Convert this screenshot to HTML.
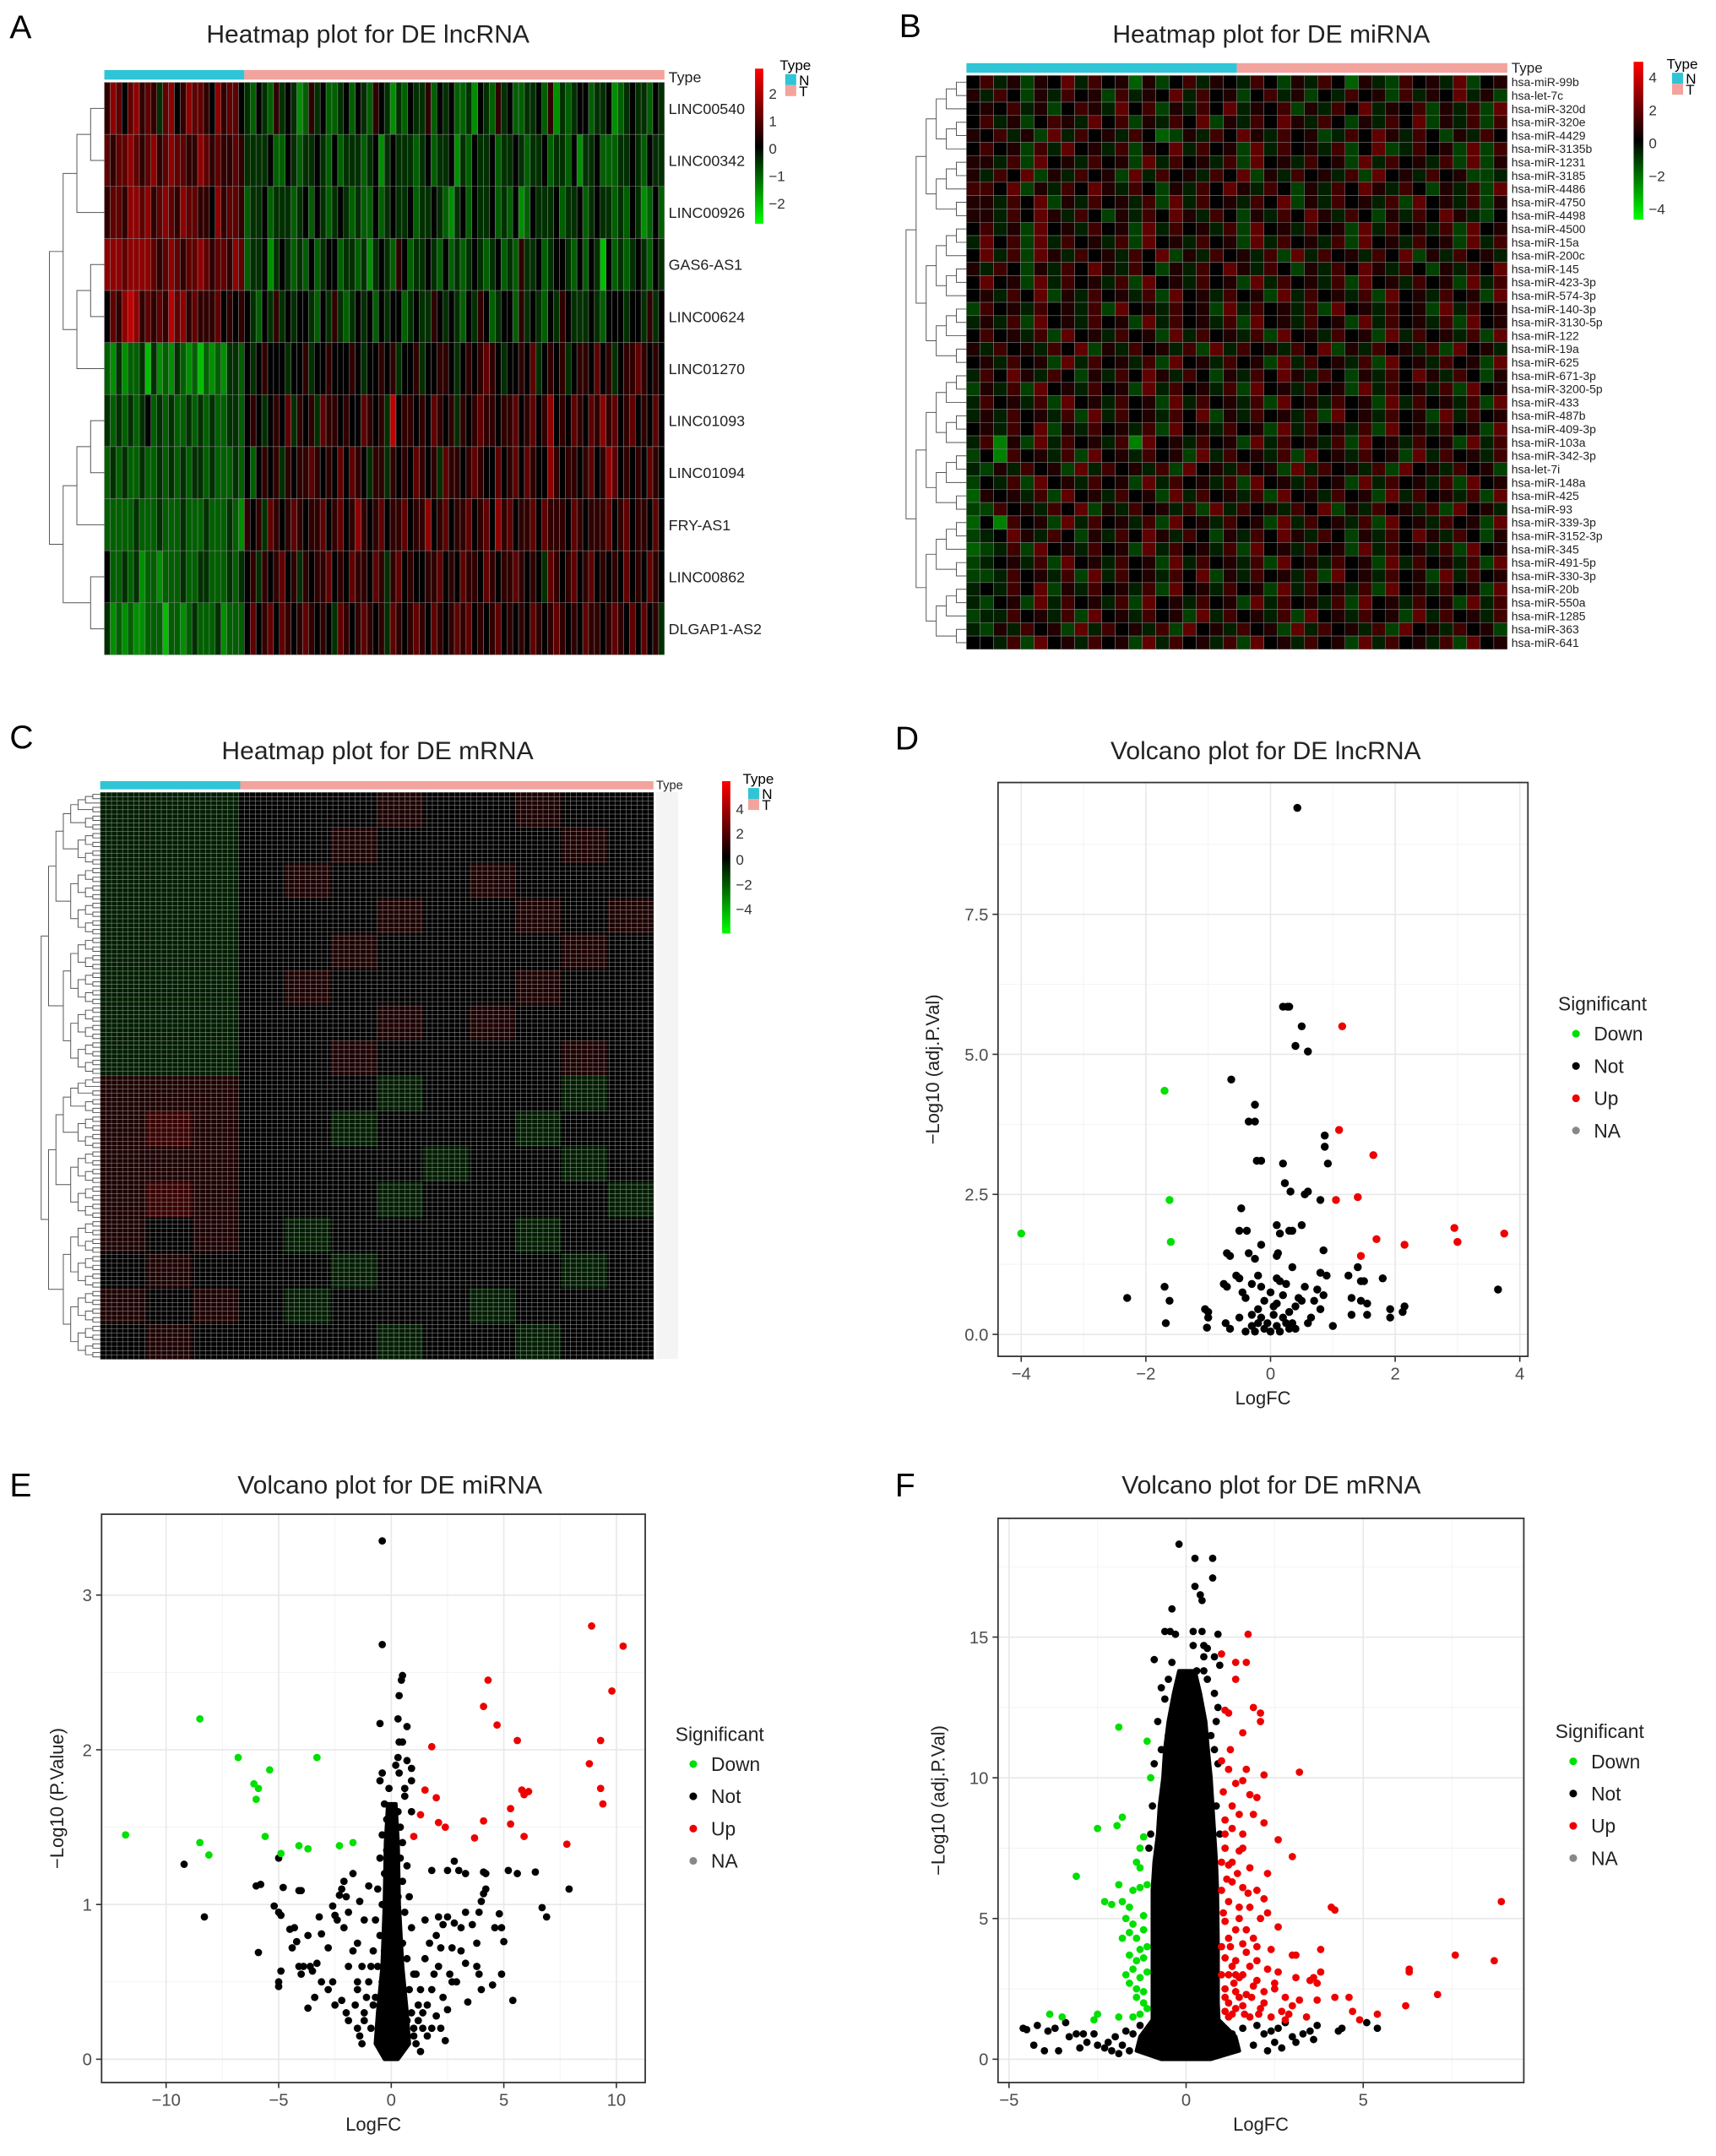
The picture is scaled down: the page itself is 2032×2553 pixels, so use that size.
<!DOCTYPE html>
<html><head><meta charset="utf-8">
<style>
html,body{margin:0;padding:0;background:#fff;}
svg{display:block;font-family:"Liberation Sans",Arial,sans-serif;}
</style></head>
<body>
<svg id="fig" width="2032" height="2553" viewBox="0 0 1250 1570.5" xmlns="http://www.w3.org/2000/svg"></svg>
<script>
// ---------- DATA ----------
const lncGenes = ["LINC00540","LINC00342","LINC00926","GAS6-AS1","LINC00624","LINC01270","LINC01093","LINC01094","FRY-AS1","LINC00862","DLGAP1-AS2"];
const lncN = ["576467565367457665475664","656676567567665576565565","566577675676576655475665","777677776567656676566576","465787565658675655564545","213122303121321202121332","323232342323223232322332","232322322323232332322232","222223222322232223222321","422323122122232233222323","312121122202212322231222"];
const lncT = ["324325343125342234243254313243352434223143253422334251323442334123433243","333342243233432423332341343332342334132433423343233423324133422233432433","233423332342432343232242343342334321342433423241243334233423433232431242","233413432324234423323134325423343242323432342325334234432424304232343243","432435343443243532343424344234335434324354234425343243543334324443443534","434544434453445444543445453445344554345456543445463454534554645345565454","454345463545365545446545384554546545354565545564564574546546575645645464","424545354556545464654355354546545365545654464564654475455456457645454654","545365456545564564575456455645574564556456475645564655546545556456455464","453545645354556454655465356454455645465546545565454365456456454546454654","464564654565454365456545365456546545656454564545465456545465545654646453"];
const mirGenes = ["hsa-miR-99b","hsa-let-7c","hsa-miR-320d","hsa-miR-320e","hsa-miR-4429","hsa-miR-3135b","hsa-miR-1231","hsa-miR-3185","hsa-miR-4486","hsa-miR-4750","hsa-miR-4498","hsa-miR-4500","hsa-miR-15a","hsa-miR-200c","hsa-miR-145","hsa-miR-423-3p","hsa-miR-574-3p","hsa-miR-140-3p","hsa-miR-3130-5p","hsa-miR-122","hsa-miR-19a","hsa-miR-625","hsa-miR-671-3p","hsa-miR-3200-5p","hsa-miR-433","hsa-miR-487b","hsa-miR-409-3p","hsa-miR-103a","hsa-miR-342-3p","hsa-let-7i","hsa-miR-148a","hsa-miR-425","hsa-miR-93","hsa-miR-339-3p","hsa-miR-3152-3p","hsa-miR-345","hsa-miR-491-5p","hsa-miR-330-3p","hsa-miR-20b","hsa-miR-550a","hsa-miR-1285","hsa-miR-363","hsa-miR-641"];
const mirVals = ["4635254736451524635436425364153264537245","5364253645263547364524635243645263547352","4546352465374625364735462536473546253627","4635246537462536472536475364253647253626","5463527364536412536475364523647536425364","4645263745362547364527364536247236452726","5536274536452736453627453645273645362725","5364725364527364536472536453627453645223","6647253647536425364753642536475364253627","5536472536453627364536472536453627453625","5536475364253647536425364753642536475324","4635274536452736453627453645273645362745","3746273645362745364527364536274536452736","4736275364536472536453627364536472536453","5364253647536425364753642536475364253647","4745273645362745364527364536274536452736","4536472536453627453645273645362745364527","2645364536274536452736453627453645273645","3536274536452736453627453645273645362745","4645362745364527364536274536452736453627","5364536472536453627364536472536453627453","4536452736453627453645273645362745364527","3647536425364753642536475364253647536425","2536274536452736453627453645273645362745","3645362745364527364536274536452736453627","3536453627364536472536453627453645273645","4536472536453627453645273645362745364527","3605273645360745364527364536274536452736","2406453627453645273645362745364527364536","3253645273645362745364527364536274536452","2436274536452736453627453645273645362745","1545362745364527364536274536452736453627","2264536472536453627364536472536453627453","1406452736453627453645273645362745364527","2347536425364753642536475364253647536425","1236274536452736453627453645273645362745","2345362745364527364536274536452736453627","2236453627364536472536453627453645273645","3436472536453627453645273645362745364527","3245273645362745364527364536274536452736","2336453627453645273645362745364527364536","3253645273645362745364527364536274536452","4436274536452736453627453645273645362745"];
const mrnaBlocks = ["333444544544","333445444454","333454445444","333444544545","333445444454","333454444544","333444545444","333445444454","555444344434","565443444344","555444434434","565444344443","545434444344","454443444434","545434443444","454444344344"];
const volDDown = [[-4.0,1.8],[-1.7,4.35],[-1.62,2.4],[-1.6,1.65]];
const volDUp = [[1.15,5.5],[1.1,3.65],[1.65,3.2],[1.05,2.4],[1.4,2.45],[1.7,1.7],[1.45,1.4],[2.15,1.6],[2.95,1.9],[3.0,1.65],[3.75,1.8]];
const volDNot = [[0.43,9.4],[0.2,5.85],[0.27,5.85],[0.3,5.85],[0.5,5.5],[0.4,5.15],[0.6,5.05],[-0.63,4.55],[-0.25,4.1],[-0.35,3.8],[-0.25,3.8],[0.87,3.55],[0.87,3.35],[0.92,3.05],[-0.22,3.1],[-0.15,3.1],[0.2,3.05],[0.23,2.7],[0.32,2.55],[0.6,2.55],[0.55,2.5],[0.8,2.4],[-0.47,2.25],[0.1,1.95],[0.5,1.95],[-0.5,1.85],[-0.38,1.85],[0.15,1.8],[0.3,1.85],[0.35,1.85],[-0.15,1.6],[-0.7,1.45],[-0.65,1.4],[-0.35,1.45],[-0.25,1.35],[0.12,1.45],[0.85,1.5],[0.1,1.4],[1.4,1.2],[1.25,1.05],[0.35,1.2],[-0.55,1.05],[-0.5,1.0],[-0.2,1.05],[0.1,1.0],[0.8,1.1],[0.9,1.05],[1.8,1.0],[1.45,0.95],[1.5,0.95],[-0.75,0.9],[-0.7,0.85],[-1.7,0.85],[-0.15,0.85],[0.25,0.9],[0.55,0.85],[0.75,0.8],[-0.45,0.75],[0.0,0.75],[0.45,0.65],[0.85,0.7],[3.65,0.8],[-2.3,0.65],[-1.62,0.6],[-0.4,0.65],[0.5,0.6],[0.7,0.6],[1.3,0.65],[1.45,0.6],[1.55,0.55],[-1.05,0.45],[-1.0,0.4],[-1.0,0.3],[0.4,0.5],[0.8,0.45],[1.92,0.45],[1.92,0.3],[2.15,0.5],[2.12,0.4],[1.3,0.35],[1.55,0.35],[-1.68,0.2],[-1.02,0.12],[-0.72,0.2],[-0.65,0.1],[-0.5,0.3],[-0.3,0.35],[-0.2,0.2],[-0.1,0.1],[0.0,0.05],[0.1,0.15],[0.2,0.3],[0.3,0.1],[0.35,0.2],[0.6,0.2],[0.65,0.3],[1.0,0.15],[-0.4,0.05],[-0.3,0.15],[-0.15,0.3],[0.05,0.35],[0.15,0.05],[0.25,0.2],[-0.05,0.2],[0.4,0.1],[-0.25,0.05],[0.05,0.5],[-0.1,0.6],[0.1,0.55],[-0.2,0.45],[0.3,0.4],[0.2,0.7],[-0.3,0.9],[0.15,0.95]];
const volEDown = [[-11.8,1.45],[-8.5,2.2],[-8.5,1.4],[-8.1,1.32],[-6.8,1.95],[-6.1,1.78],[-5.9,1.75],[-6.0,1.68],[-5.4,1.87],[-5.6,1.44],[-4.9,1.33],[-4.1,1.38],[-3.7,1.36],[-3.3,1.95],[-2.3,1.38],[-1.7,1.4]];
const volEUp = [[8.9,2.8],[10.3,2.67],[4.3,2.45],[4.1,2.28],[9.8,2.38],[4.7,2.16],[1.8,2.02],[5.6,2.06],[9.3,2.06],[8.8,1.91],[1.5,1.74],[2.0,1.69],[5.8,1.74],[5.9,1.71],[6.1,1.73],[9.3,1.75],[9.4,1.65],[5.3,1.62],[1.3,1.58],[2.1,1.53],[2.4,1.5],[4.1,1.54],[5.3,1.52],[1.0,1.44],[3.7,1.43],[5.9,1.44],[7.8,1.39]];
const volENot = [[-0.4,3.35],[-0.4,2.68],[0.5,2.48],[0.45,2.45],[0.35,2.35],[-0.5,2.17],[0.3,2.2],[0.7,2.15],[0.35,2.05],[0.5,2.05],[0.3,1.95],[0.7,1.93],[0.9,1.88],[-0.4,1.85],[-0.5,1.8],[0.9,1.8],[0.6,1.7],[-9.2,1.26],[-8.3,0.92],[-6.0,1.12],[-5.8,1.13],[-5.0,1.3],[-4.8,1.11],[-4.1,1.09],[-4.0,1.09],[-5.2,0.99],[-5.0,0.95],[-4.9,0.93],[-4.5,0.84],[-4.3,0.85],[-4.2,0.76],[-4.4,0.72],[-5.9,0.69],[-3.7,0.8],[-3.1,0.81],[-3.2,0.92],[-2.6,0.99],[-2.3,1.06],[-2.2,1.1],[-2.1,1.15],[-2.0,1.05],[-1.7,1.2],[-2.5,0.93],[-2.4,0.9],[-2.1,0.85],[-1.9,0.95],[-2.8,0.72],[-3.3,0.62],[-3.6,0.6],[-4.1,0.6],[-4.9,0.57],[-5.0,0.5],[-5.0,0.47],[-4.0,0.55],[-3.9,0.6],[-3.5,0.57],[-3.1,0.5],[-3.4,0.4],[-3.7,0.33],[-2.8,0.45],[-2.6,0.5],[-2.2,0.38],[-2.0,0.3],[-2.5,0.35],[-1.9,0.6],[-1.7,0.7],[-1.5,0.75],[-1.9,0.25],[-1.5,0.2],[-1.2,0.25],[-1.5,0.5],[-1.3,0.6],[-1.2,0.9],[-1.4,1.02],[-1.0,1.12],[-1.5,0.45],[1.8,1.22],[2.5,1.22],[2.8,1.28],[3.0,1.22],[3.3,1.2],[4.1,1.21],[4.2,1.2],[5.2,1.22],[5.6,1.2],[6.4,1.21],[4.1,1.07],[4.2,1.1],[4.0,1.02],[4.8,0.94],[6.7,0.98],[6.9,0.92],[7.9,1.1],[1.5,0.9],[2.1,0.92],[2.3,0.87],[2.5,0.92],[2.8,0.88],[3.1,0.85],[3.3,0.95],[3.6,0.87],[3.9,0.95],[4.6,0.85],[4.9,0.85],[5.0,0.76],[3.8,0.75],[2.7,0.72],[2.2,0.72],[2.0,0.8],[1.7,0.75],[1.5,0.65],[3.1,0.7],[3.3,0.62],[3.8,0.6],[3.9,0.55],[4.5,0.48],[4.9,0.55],[5.4,0.38],[4.0,0.45],[3.4,0.37],[2.7,0.5],[2.6,0.55],[2.9,0.5],[2.1,0.6],[1.9,0.55],[1.8,0.45],[2.3,0.4],[2.5,0.32],[2.0,0.28],[2.2,0.2],[2.4,0.12],[1.6,0.35],[1.4,0.3],[1.2,0.25],[1.0,0.2],[1.3,0.45],[1.1,0.55],[-0.3,1.65],[-0.2,1.55],[0.3,1.6],[0.4,1.5],[-0.4,1.45],[0.0,1.45],[0.5,1.4],[-0.2,1.35],[0.2,1.35],[-0.5,1.3],[0.4,1.3],[0.7,1.25],[-0.3,1.2],[0.1,1.2],[0.5,1.15],[-0.6,1.1],[-0.1,1.1],[0.3,1.05],[0.8,1.05],[-0.4,1.0],[0.0,1.0],[0.6,0.95],[-0.7,0.9],[-0.2,0.9],[0.3,0.9],[0.9,0.85],[-0.5,0.8],[0.1,0.8],[0.5,0.75],[-0.8,0.7],[-0.3,0.7],[0.2,0.7],[0.7,0.65],[-0.6,0.6],[0.0,0.6],[0.4,0.55],[1.0,0.55],[-1.0,0.5],[-0.4,0.5],[0.2,0.45],[0.8,0.45],[-0.7,0.4],[-0.1,0.4],[0.5,0.35],[1.2,0.35],[-1.2,0.3],[-0.5,0.3],[0.1,0.25],[0.7,0.25],[-0.9,0.2],[-0.3,0.2],[0.3,0.15],[1.0,0.15],[-0.6,0.12],[0.0,0.1],[0.5,0.08],[-0.2,0.05],[0.2,0.03],[1.4,0.2],[-1.4,0.15],[0.9,1.6],[0.6,1.75],[0.35,1.85],[-0.1,1.75],[0.2,1.9],[-1.1,0.4],[-0.9,0.6],[-1.3,0.1],[1.1,0.1],[1.3,0.05],[0.9,0.3],[-0.8,0.35],[1.6,0.15],[-1.6,0.35],[1.8,0.2]];
const volECoreY = [0,0.1,0.3,0.6,1.0,1.4,1.65];
const volECoreL = [-0.3,-0.7,-0.6,-0.4,-0.3,-0.25,-0.15];
const volECoreR = [0.3,0.8,0.7,0.5,0.35,0.3,0.2];
const volFDown = [[-1.9,11.8],[-1.1,11.3],[-1.0,10.0],[-1.8,8.6],[-1.95,8.3],[-2.5,8.2],[-1.2,7.9],[-1.3,7.5],[-1.4,7.0],[-1.3,6.8],[-3.1,6.5],[-1.9,6.2],[-1.3,6.1],[-1.1,6.2],[-2.3,5.6],[-2.1,5.5],[-1.8,5.6],[-1.6,5.4],[-1.7,5.0],[-1.5,4.8],[-1.2,5.1],[-1.6,4.5],[-1.4,4.3],[-1.8,4.3],[-1.3,3.9],[-1.6,3.7],[-1.4,3.5],[-1.2,3.6],[-1.5,3.2],[-1.7,3.0],[-1.3,2.9],[-1.1,3.1],[-1.6,2.7],[-1.4,2.5],[-1.2,2.4],[-1.4,2.2],[-1.2,2.0],[-1.1,1.8],[-1.3,1.6],[-1.5,1.5],[-1.9,1.5],[-2.5,1.6],[-2.6,1.4],[-3.5,1.5],[-3.85,1.6],[-1.1,4.0],[-1.2,4.6],[-1.5,6.0]];
const volFUp = [[1.75,15.1],[1.0,14.4],[1.4,14.1],[1.7,14.1],[1.4,13.5],[1.1,12.4],[1.2,12.3],[1.9,12.5],[2.1,12.3],[2.1,12.0],[1.6,11.6],[1.0,10.6],[1.2,10.3],[1.7,10.3],[2.2,10.1],[3.2,10.2],[1.4,9.8],[1.6,9.9],[1.8,9.4],[2.0,9.3],[1.9,8.7],[2.2,8.4],[1.1,8.5],[1.3,8.2],[1.6,8.0],[2.6,7.8],[1.5,7.4],[1.1,7.5],[3.0,7.2],[1.2,6.9],[1.8,6.8],[2.3,6.6],[1.3,6.3],[1.6,6.1],[2.0,6.0],[2.2,5.7],[1.2,5.6],[1.5,5.4],[1.8,5.4],[2.3,5.2],[4.1,5.4],[4.2,5.3],[1.1,4.9],[1.4,4.6],[1.7,4.6],[2.6,4.7],[1.2,4.3],[1.6,4.1],[2.0,4.0],[2.4,3.9],[3.0,3.7],[3.1,3.7],[3.8,3.9],[1.1,3.6],[1.4,3.5],[1.8,3.3],[2.3,3.2],[2.6,3.1],[3.8,3.1],[6.3,3.2],[6.3,3.1],[1.2,3.0],[1.5,2.9],[2.0,2.8],[2.5,2.7],[3.1,2.9],[3.6,2.9],[3.5,2.8],[1.1,2.5],[1.4,2.4],[1.7,2.3],[2.2,2.4],[2.8,2.2],[3.2,2.1],[3.7,2.7],[4.2,2.2],[4.6,2.2],[7.1,2.3],[7.6,3.7],[8.7,3.5],[8.9,5.6],[1.2,2.0],[1.6,1.9],[2.1,1.8],[2.7,1.7],[3.0,1.9],[3.7,2.1],[4.7,1.7],[5.4,1.6],[6.2,1.9],[4.9,1.4],[1.3,1.6],[1.8,1.5],[2.4,1.5],[2.9,1.6],[3.4,1.5],[1.1,1.7],[1.0,3.0],[1.0,4.0],[1.0,6.0],[1.0,7.0],[1.1,8.0],[1.3,7.0],[1.5,5.0],[1.7,3.8],[1.9,2.6],[2.2,2.0],[1.4,3.0],[1.9,4.3],[2.1,5.0],[1.3,9.0],[1.6,7.5],[2.5,2.5],[2.0,3.5],[1.2,1.5],[1.5,2.2],[2.8,1.4],[1.05,5.2],[1.25,4.0],[1.35,2.7],[1.15,6.4],[1.45,6.6],[1.75,5.9],[1.3,3.3],[1.6,3.0],[1.85,2.2],[2.05,1.6],[1.1,2.2],[1.4,1.8],[1.65,1.6],[1.05,9.5],[1.25,11.0],[1.5,8.7]];
const volFNot = [[-0.2,18.3],[0.25,17.8],[0.75,17.8],[0.25,16.8],[0.75,17.1],[0.4,16.5],[0.45,16.3],[-0.4,16.0],[-0.45,15.2],[-0.3,15.1],[0.2,15.2],[0.45,15.2],[0.9,15.1],[0.2,14.7],[0.5,14.7],[0.5,14.3],[-0.9,14.2],[-0.4,14.1],[0.8,14.3],[-0.7,13.2],[-0.6,12.8],[-0.8,12.0],[-0.5,11.5],[-0.7,11.0],[-0.9,10.5],[0.6,13.5],[0.8,13.0],[0.9,12.5],[0.85,12.0],[0.7,11.5],[0.8,11.0],[0.9,10.5],[0.3,13.8],[0.5,13.8],[0.6,14.6],[0.95,14.0],[-1.05,7.5],[-1.0,8.0],[-0.95,9.0],[0.95,8.0],[0.85,9.0],[-4.6,1.1],[-4.5,1.05],[-4.2,1.2],[-4.3,0.5],[-4.0,0.3],[-3.6,0.3],[-3.7,1.1],[-3.9,1.0],[-3.4,1.3],[-3.3,0.8],[-3.1,0.9],[-2.9,0.9],[-2.8,0.6],[-2.5,0.5],[-2.3,0.4],[-2.1,0.3],[-2.0,0.8],[-1.8,0.5],[-1.7,1.0],[-1.9,0.2],[2.2,0.9],[2.5,0.6],[2.7,0.4],[3.0,0.8],[3.1,0.6],[3.3,0.9],[3.5,1.0],[3.6,0.7],[3.7,1.2],[4.3,1.0],[4.4,1.1],[5.1,1.3],[5.4,1.1],[2.4,1.0],[2.8,1.3],[-0.6,15.2],[-0.5,13.5],[-0.3,12.0],[0.1,13.0],[0.4,12.3],[-0.1,11.6],[0.2,11.2],[-0.4,10.8],[0.6,10.2],[0.0,10.0],[-1.5,0.9],[-1.3,1.2],[-1.6,0.3],[-2.2,0.6],[-2.6,0.9],[-3.0,0.4],[1.3,0.9],[1.6,1.1],[1.9,0.5],[2.0,1.2],[2.3,0.3],[2.6,1.1],[-1.2,0.5],[1.2,0.4]];
const volFCoreY = [0,0.3,0.8,1.4,2,4,6,7,8,9,10,11,12,13,13.8];
const volFCoreL = [-0.7,-1.4,-1.3,-0.95,-0.95,-0.95,-0.95,-0.9,-0.8,-0.75,-0.65,-0.6,-0.5,-0.35,-0.2];
const volFCoreR = [0.7,1.5,1.4,0.92,0.9,0.9,0.88,0.85,0.8,0.75,0.7,0.62,0.55,0.4,0.25];

// ---------- HELPERS ----------
const NS = "http://www.w3.org/2000/svg";
const svg = document.getElementById('fig');
function el(tag, attrs, parent){
  const e = document.createElementNS(NS, tag);
  for (const k in attrs) e.setAttribute(k, attrs[k]);
  (parent||svg).appendChild(e);
  return e;
}
function txt(s, x, y, size, opts, parent){
  const o = Object.assign({x:x, y:y, 'font-size':size, fill:'#000'}, opts||{});
  const t = el('text', o, parent);
  t.textContent = s;
  return t;
}
function hmColor(f){
  f = Math.max(-1, Math.min(1, f));
  if (f >= 0) return 'rgb(' + Math.round(255*f) + ',0,0)';
  return 'rgb(0,' + Math.round(-255*f) + ',0)';
}
function drawTree(g, x0, x1, centers){
  const n = centers.length;
  const maxL = Math.ceil(Math.log2(n));
  function node(lo, hi){
    if (lo === hi) return {y: centers[lo], x: x1};
    const mid = Math.floor((lo + hi) / 2);
    const a = node(lo, mid), b = node(mid + 1, hi);
    const lvl = Math.ceil(Math.log2(hi - lo + 1));
    const x = x1 - (x1 - x0) * lvl / maxL;
    const p = el('path', {d: 'M' + a.x + ',' + a.y + 'H' + x + 'V' + b.y + 'H' + b.x, fill: 'none', stroke: '#555', 'stroke-width': 0.6}, g);
    
    
    return {y: (a.y + b.y) / 2, x: x};
  }
  node(0, n - 1);
}
function typeLegend(g, x, y){
  const t = txt('Type', x, y, 10.5, {}, g);
  
  
  const r1 = el('rect', {x: x + 4, y: y + 3, width: 8, height: 8, fill: '#2fc5d6'}, g);
  
  
  const r2 = el('rect', {x: x + 4, y: y + 11, width: 8, height: 8, fill: '#f3a39d'}, g);
  
  
  const n1 = txt('N', x + 14, y + 11, 10.5, {}, g);
  
  
  const n2 = txt('T', x + 14, y + 19, 10.5, {}, g);
  
  
}
let gradCount = 0;
function colorBar(g, x, y, w, h, labels){
  const id = 'grad' + (gradCount++);
  const defs = el('defs', {}, g);
  const lg = el('linearGradient', {id: id, x1: 0, y1: 0, x2: 0, y2: 1}, defs);
  el('stop', {offset: '0', 'stop-color': '#ff0000'}, lg);
  el('stop', {offset: '0.5', 'stop-color': '#000000'}, lg);
  el('stop', {offset: '1', 'stop-color': '#00ff00'}, lg);
  const r = el('rect', {x: x, y: y, width: w, height: h, fill: 'url(#' + id + ')'}, g);
  
  
  labels.forEach(function(l){
    const t = txt(l[0], x + w + 4, l[1], 10.5, {fill: '#333'}, g);
    
    
  });
}
function panelHeader(letter, lx, ly, title, tx, ty){
  const a = txt(letter, lx, ly, 24, {});
  
  
  const b = txt(title, tx, ty, 18.5, {'text-anchor': 'middle', fill: '#222'});
  
  
}
function heatmap(g, x0, y0, w, h, rows, nN, scale){
  const nr = rows.length, nc = rows[0].length;
  const cw = w / nc, ch = h / nr;
  for (let r = 0; r < nr; r++){
    for (let c = 0; c < nc; c++){
      const v = parseInt(rows[r].charAt(c) || '4', 10);
      const rc = el('rect', {x: x0 + c*cw, y: y0 + r*ch, width: cw, height: ch, fill: hmColor((v - 4) / 4 * scale), stroke: '#8a8a8a', 'stroke-width': 0.3}, g);
      
      
    }
  }
  const a1 = el('rect', {x: x0, y: y0 - 9, width: nN*cw, height: 7, fill: '#2fc5d6'}, g);
  
  
  const a2 = el('rect', {x: x0 + nN*cw, y: y0 - 9, width: w - nN*cw, height: 7, fill: '#f3a39d'}, g);
  
  
  const centers = [];
  for (let r = 0; r < nr; r++) centers.push(y0 + (r + 0.5) * ch);
  return centers;
}

// ---------- PANEL A ----------
panelHeader('A', 7, 28, 'Heatmap plot for DE lncRNA', 268, 31);
const gA = el('g', {});  
const lncRows = lncN.map(function(s, i){ return s + lncT[i].slice(0, 72).padEnd(72, '4'); });
const cA = heatmap(gA, 76, 60, 408, 417, lncRows, 24, 0.75);
lncGenes.forEach(function(gn, i){
  const t = txt(gn, 487, cA[i] + 4, 11, {fill: '#222'}, gA);
  
  
});
const tA = txt('Type', 487, 60, 11, {fill: '#222'}, gA);  
drawTree(gA, 36, 76, cA);
colorBar(gA, 550, 50, 6, 113, [['2', 72], ['1', 92], ['0', 112], ['\u22121', 132], ['\u22122', 152]]);
typeLegend(gA, 568, 51);

// ---------- PANEL B ----------
panelHeader('B', 655, 27, 'Heatmap plot for DE miRNA', 926, 31);
const gB = el('g', {});  
const cB = heatmap(gB, 704, 55, 394, 418, mirVals, 20, 0.5);
mirGenes.forEach(function(gn, i){
  const t = txt(gn, 1101, cB[i] + 3, 8.6, {fill: '#222'}, gB);
  
  
});
const tB = txt('Type', 1101, 53, 10.5, {fill: '#222'}, gB);  
drawTree(gB, 660, 704, cB);
colorBar(gB, 1190, 45, 7, 115, [['4', 60], ['2', 84], ['0', 108], ['\u22122', 132], ['\u22124', 156]]);
typeLegend(gB, 1214, 50);

// ---------- PANEL C ----------
panelHeader('C', 7, 545, 'Heatmap plot for DE mRNA', 275, 553);
const gC = el('g', {});  
(function(){
  const x0 = 73, y0 = 577, w = 403, h = 413;
  const nr = mrnaBlocks.length, nc = mrnaBlocks[0].length;
  const bw = w / nc, bh = h / nr;
  for (let r = 0; r < nr; r++) for (let c = 0; c < nc; c++){
    const v = parseInt(mrnaBlocks[r].charAt(c), 10);
    const rc = el('rect', {x: x0 + c*bw, y: y0 + r*bh, width: bw + 0.2, height: bh + 0.2, fill: hmColor((v - 4) / 4 * 0.45)}, gC);
    
    
  }
  const defs = el('defs', {}, gC);
  const pat = el('pattern', {id: 'mgrid', x: x0, y: y0, width: w/100, height: h/130, patternUnits: 'userSpaceOnUse'}, defs);
  el('path', {d: 'M0,0H' + (w/100) + 'M0,0V' + (h/130), stroke: '#a8a8a8', 'stroke-width': 0.55, fill: 'none'}, pat);
  const gr = el('rect', {x: x0, y: y0, width: w, height: h, fill: 'url(#mgrid)'}, gC);
  
  
  const a1 = el('rect', {x: x0, y: y0 - 8, width: 102, height: 6, fill: '#2fc5d6'}, gC);
   
  const a2 = el('rect', {x: x0 + 102, y: y0 - 8, width: w - 102, height: 6, fill: '#f3a39d'}, gC);
   
  const centers = [];
  for (let i = 0; i < 130; i++) centers.push(y0 + (i + 0.5) * h / 130);
  drawTree(gC, 30, 73, centers);
  const lab = el('rect', {x: 478, y: y0, width: 16, height: h, fill: '#e0e0e0', opacity: 0.35}, gC);
  
  
})();
const tC = txt('Type', 478, 575, 9, {fill: '#222'}, gC);  
colorBar(gC, 526, 569, 6, 111, [['4', 593], ['2', 611], ['0', 630], ['\u22122', 648], ['\u22124', 666]]);
typeLegend(gC, 541, 571);

// ---------- VOLCANO ----------
function volcano(cfg){
  const g = el('g', {});
  
  
  const X = function(v){ return cfg.x0px + (v - cfg.xa) * cfg.xs; };
  const Y = function(v){ return cfg.y0px - (v - cfg.ya) * cfg.ys; };
  const b = cfg.box;
  const bg = el('rect', {x: b[0], y: b[1], width: b[2]-b[0], height: b[3]-b[1], fill: '#fff'}, g);
   
  cfg.xminor.forEach(function(v){ const l = el('line', {x1: X(v), x2: X(v), y1: b[1], y2: b[3], stroke: '#f3f3f3', 'stroke-width': 0.6}, g);   });
  cfg.yminor.forEach(function(v){ const l = el('line', {x1: b[0], x2: b[2], y1: Y(v), y2: Y(v), stroke: '#f3f3f3', 'stroke-width': 0.6}, g);   });
  cfg.xticks.forEach(function(v){ const l = el('line', {x1: X(v), x2: X(v), y1: b[1], y2: b[3], stroke: '#e8e8e8', 'stroke-width': 1}, g);   });
  cfg.yticks.forEach(function(v){ const l = el('line', {x1: b[0], x2: b[2], y1: Y(v), y2: Y(v), stroke: '#e8e8e8', 'stroke-width': 1}, g);   });
  if (cfg.coreY){
    let d = '';
    cfg.coreY.forEach(function(v, i){ d += (i ? 'L' : 'M') + X(cfg.coreL[i]) + ',' + Y(v); });
    for (let i = cfg.coreY.length - 1; i >= 0; i--) d += 'L' + X(cfg.coreR[i]) + ',' + Y(cfg.coreY[i]);
    const p = el('path', {d: d + 'Z', fill: '#000', stroke: '#000', 'stroke-width': cfg.r, 'stroke-linejoin': 'round'}, g);
    
    
  }
  [[cfg.not, '#000', 'point-not'], [cfg.down, '#00e000', 'point-down'], [cfg.up, '#ee0000', 'point-up']].forEach(function(s){
    s[0].forEach(function(p){
      const c = el('circle', {cx: X(p[0]), cy: Y(p[1]), r: cfg.r, fill: s[1]}, g);
      
      
    });
  });
  const frame = el('rect', {x: b[0], y: b[1], width: b[2]-b[0], height: b[3]-b[1], fill: 'none', stroke: '#333', 'stroke-width': 1.1}, g);
   
  cfg.xticks.forEach(function(v, i){
    const tk = el('line', {x1: X(v), x2: X(v), y1: b[3], y2: b[3] + 4, stroke: '#333', 'stroke-width': 1}, g);
     
    const t = txt(cfg.xlabels[i], X(v), b[3] + 17, 12.5, {'text-anchor': 'middle', fill: '#4d4d4d'}, g);
     
  });
  cfg.yticks.forEach(function(v, i){
    const tk = el('line', {x1: b[0] - 4, x2: b[0], y1: Y(v), y2: Y(v), stroke: '#333', 'stroke-width': 1}, g);
     
    const t = txt(cfg.ylabels[i], b[0] - 7, Y(v) + 4.5, 12.5, {'text-anchor': 'end', fill: '#4d4d4d'}, g);
     
  });
  const xt = txt('LogFC', (b[0]+b[2])/2, b[3] + 35, 13.5, {'text-anchor': 'middle', fill: '#222'}, g);
   
  const yc = (b[1]+b[3])/2;
  const yt = txt(cfg.ytitle, cfg.ytx, yc, 13.5, {'text-anchor': 'middle', fill: '#222', transform: 'rotate(-90,' + cfg.ytx + ',' + yc + ')'}, g);
   
  const L = cfg.leg;
  const lt = txt('Significant', L[0], L[1], 14, {fill: '#222'}, g);
   
  [['Down', '#00e000'], ['Not', '#000'], ['Up', '#ee0000'], ['NA', '#888']].forEach(function(e, i){
    const yy = L[1] + 22 + i * 23.5;
    const c = el('circle', {cx: L[0] + 13, cy: yy - 5, r: 2.8, fill: e[1]}, g);
     
    const t = txt(e[0], L[0] + 26, yy, 14, {fill: '#222'}, g);
     
  });
}

panelHeader('D', 652, 546, 'Volcano plot for DE lncRNA', 922, 553);
volcano({name: 'lncrna-volcano', box: [727, 570, 1113, 988], x0px: 925.5, xa: 0, xs: 45.4, y0px: 972, ya: 0, ys: 40.8,
  xticks: [-4,-2,0,2,4], xlabels: ['\u22124','\u22122','0','2','4'], yticks: [0,2.5,5,7.5], ylabels: ['0.0','2.5','5.0','7.5'],
  xminor: [-3,-1,1,3], yminor: [1.25,3.75,6.25,8.75], not: volDNot, down: volDDown, up: volDUp, r: 2.9,
  ytitle: '\u2212Log10 (adj.P.Val)', ytx: 684, leg: [1135, 736]});

panelHeader('E', 7, 1090, 'Volcano plot for DE miRNA', 284, 1088);
volcano({name: 'mirna-volcano', box: [74, 1103, 470, 1517], x0px: 285, xa: 0, xs: 16.4, y0px: 1500, ya: 0, ys: 112.7,
  xticks: [-10,-5,0,5,10], xlabels: ['\u221210','\u22125','0','5','10'], yticks: [0,1,2,3], ylabels: ['0','1','2','3'],
  xminor: [-7.5,-2.5,2.5,7.5], yminor: [0.5,1.5,2.5], not: volENot, down: volEDown, up: volEUp, r: 2.7,
  coreY: volECoreY, coreL: volECoreL, coreR: volECoreR,
  ytitle: '\u2212Log10 (P.Value)', ytx: 46, leg: [492, 1268]});

panelHeader('F', 652, 1090, 'Volcano plot for DE mRNA', 926, 1088);
volcano({name: 'mrna-volcano', box: [727, 1106, 1110, 1517], x0px: 864, xa: 0, xs: 25.8, y0px: 1500, ya: 0, ys: 20.5,
  xticks: [-5,0,5], xlabels: ['\u22125','0','5'], yticks: [0,5,10,15], ylabels: ['0','5','10','15'],
  xminor: [-2.5,2.5,7.5], yminor: [2.5,7.5,12.5,17.5], not: volFNot, down: volFDown, up: volFUp, r: 2.7,
  coreY: volFCoreY, coreL: volFCoreL, coreR: volFCoreR,
  ytitle: '\u2212Log10 (adj.P.Val)', ytx: 688, leg: [1133, 1266]});
</script>
</body></html>
